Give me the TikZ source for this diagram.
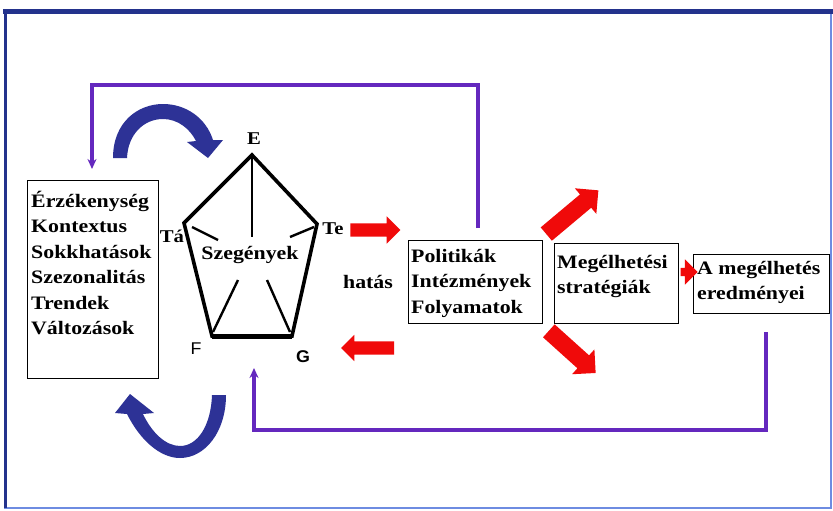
\documentclass[tikz,border=0pt]{standalone}
\usepackage{fontspec}
\setmainfont{Liberation Serif}[FakeStretch=1.15]
\newfontfamily\lsans{Liberation Sans}[FakeStretch=1.05]
\usetikzlibrary{shapes.arrows,arrows.meta,calc}
\definecolor{framebl}{RGB}{35,50,140}
\definecolor{framelt}{RGB}{110,140,225}
\definecolor{purp}{RGB}{100,40,190}
\definecolor{arrbl}{RGB}{45,50,150}
\definecolor{rd}{RGB}{240,10,10}
\begin{document}
\begin{tikzpicture}[x=1pt,y=-1pt,
  txt/.style={font=\fontsize{19}{25.5}\selectfont\bfseries, inner sep=0pt, align=left},
  boxn/.style={draw=black, line width=1.4pt, inner sep=0pt, anchor=north west},
  redarrow/.style={single arrow, fill=rd, draw=none, inner xsep=0pt, minimum width=0pt, single arrow head indent=0pt},
  feedback/.style={draw=purp, line width=3.6pt, line join=miter, -{Stealth[length=10pt,width=9pt]}},
  pent/.style={line width=3.6pt, line join=miter},
  spoke/.style={line width=2.4pt},
  vlabel/.style={font=\fontsize{18}{18}\selectfont\bfseries, inner sep=0pt},
  slabel/.style={font=\lsans\fontsize{17}{17}\selectfont, inner sep=0pt}
]
\useasboundingbox (0,0) rectangle (833,511);
\fill[white] (0,0) rectangle (833,511);
% frame
\draw[framelt, line width=2pt] (5,12) rectangle (831,508);
\draw[framebl, line width=3pt] (5,12) -- (5,508);
\draw[framebl, line width=5pt] (3,12) -- (833,12);

% boxes
\node[boxn, minimum width=131, minimum height=198] (lbox) at (27,180) {};
\node[txt, anchor=north west] (ltext) at (31,190.5) {Érzékenység\\Kontextus\\Sokkhatások\\Szezonalitás\\Trendek\\Változások};
\node[boxn, minimum width=134, minimum height=83] (pbox) at (408,240) {};
\node[txt, anchor=north west] (ptext) at (411,249) {Politikák\\Intézmények\\Folyamatok};
\node[boxn, minimum width=124, minimum height=80] (mbox) at (554,243) {};
\node[txt, anchor=north west] (mtext) at (557,255) {Megélhetési\\stratégiák};
\node[boxn, minimum width=136, minimum height=59] (abox) at (693,254) {};
\node[txt, anchor=north west] (atext) at (697,261) {A megélhetés\\eredményei};

% pentagon
\coordinate (E) at (252,155);
\coordinate (Te) at (317,224);
\coordinate (G) at (292,336);
\coordinate (F) at (212,336);
\coordinate (Ta) at (184,223);
\coordinate (sE) at (252,237);
\coordinate (sTa1) at (192,227); \coordinate (sTa2) at (218,240);
\coordinate (sTe1) at (314,227); \coordinate (sTe2) at (290,237);
\coordinate (sF1) at (213,332); \coordinate (sF2) at (238,280);
\coordinate (sG1) at (290,332); \coordinate (sG2) at (267,280);
\draw[pent] (E) -- (Te) -- (G) -- (F) -- (Ta) -- cycle;
\draw[line width=5pt] (F) -- (G);
\draw[spoke] (E) -- (sE);
\draw[spoke] (sTa1) -- (sTa2);
\draw[spoke] (sTe1) -- (sTe2);
\draw[spoke] (sF1) -- (sF2);
\draw[spoke] (sG1) -- (sG2);
\node[vlabel] (lE) at (254,138.5) {E};
\node[vlabel] (lTa) at (172,236) {Tá};
\node[vlabel] (lTe) at (333,229) {Te};
\node[slabel] (lF) at (196,349) {F};
\node[slabel, font=\lsans\bfseries\fontsize{17}{17}\selectfont] (lG) at (303,357) {G};
\node[txt] (szeg) at (250,255) {Szegények};
\node[txt] (hatas) at (368,282) {hatás};

% red block arrows
\node[redarrow, minimum height=50, inner ysep=6.5pt, single arrow head extend=7pt] (ra1) at (372,230) {};
\node[redarrow, minimum height=53, inner ysep=6.5pt, single arrow head extend=6.5pt, rotate=180] (ra2) at (371,348) {};
\node[redarrow, minimum height=68, inner ysep=8.5pt, single arrow head extend=8pt, rotate=40] (ra3) at (569,215) {};
\node[redarrow, minimum height=63, inner ysep=8.5pt, single arrow head extend=8pt, rotate=-42] (ra4) at (569,349) {};
\node[redarrow, minimum height=17, inner ysep=4pt, single arrow head extend=8.5pt] (ra5) at (687,272) {};

% purple feedback connectors
\coordinate (pTop) at (478,228);
\coordinate (pc1) at (478,85);
\coordinate (pc2) at (92,85);
\coordinate (lTip) at (92,169);
\draw[feedback] (pTop) -- (pc1) -- (pc2) -- (lTip);
\coordinate (aBot) at (766,332);
\coordinate (bc1) at (766,430);
\coordinate (bc2) at (254,430);
\coordinate (gTip) at (254,368);
\draw[feedback] (aBot) -- (bc1) -- (bc2) -- (gTip);

% blue curved arrows
\fill[arrbl] (113,158) .. controls (113,122) and (138,104) .. (163,104)
  .. controls (186,104) and (206,118) .. (213,140) -- (223,140) -- (208,158) -- (187,142) -- (196,141)
  .. controls (190,129) and (178,119) .. (163,119)
  .. controls (144,119) and (128,134) .. (127,158) -- cycle;
\fill[arrbl] (212,395) -- (226,395) .. controls (226,432) and (205,458) .. (180,458)
  .. controls (160,458) and (140,440) .. (127,414) -- (115,413) -- (130,394) -- (154,413) -- (143,414)
  .. controls (152,433) and (166,446) .. (180,446)
  .. controls (198,446) and (211,425) .. (212,395) -- cycle;
\end{tikzpicture}
\end{document}
